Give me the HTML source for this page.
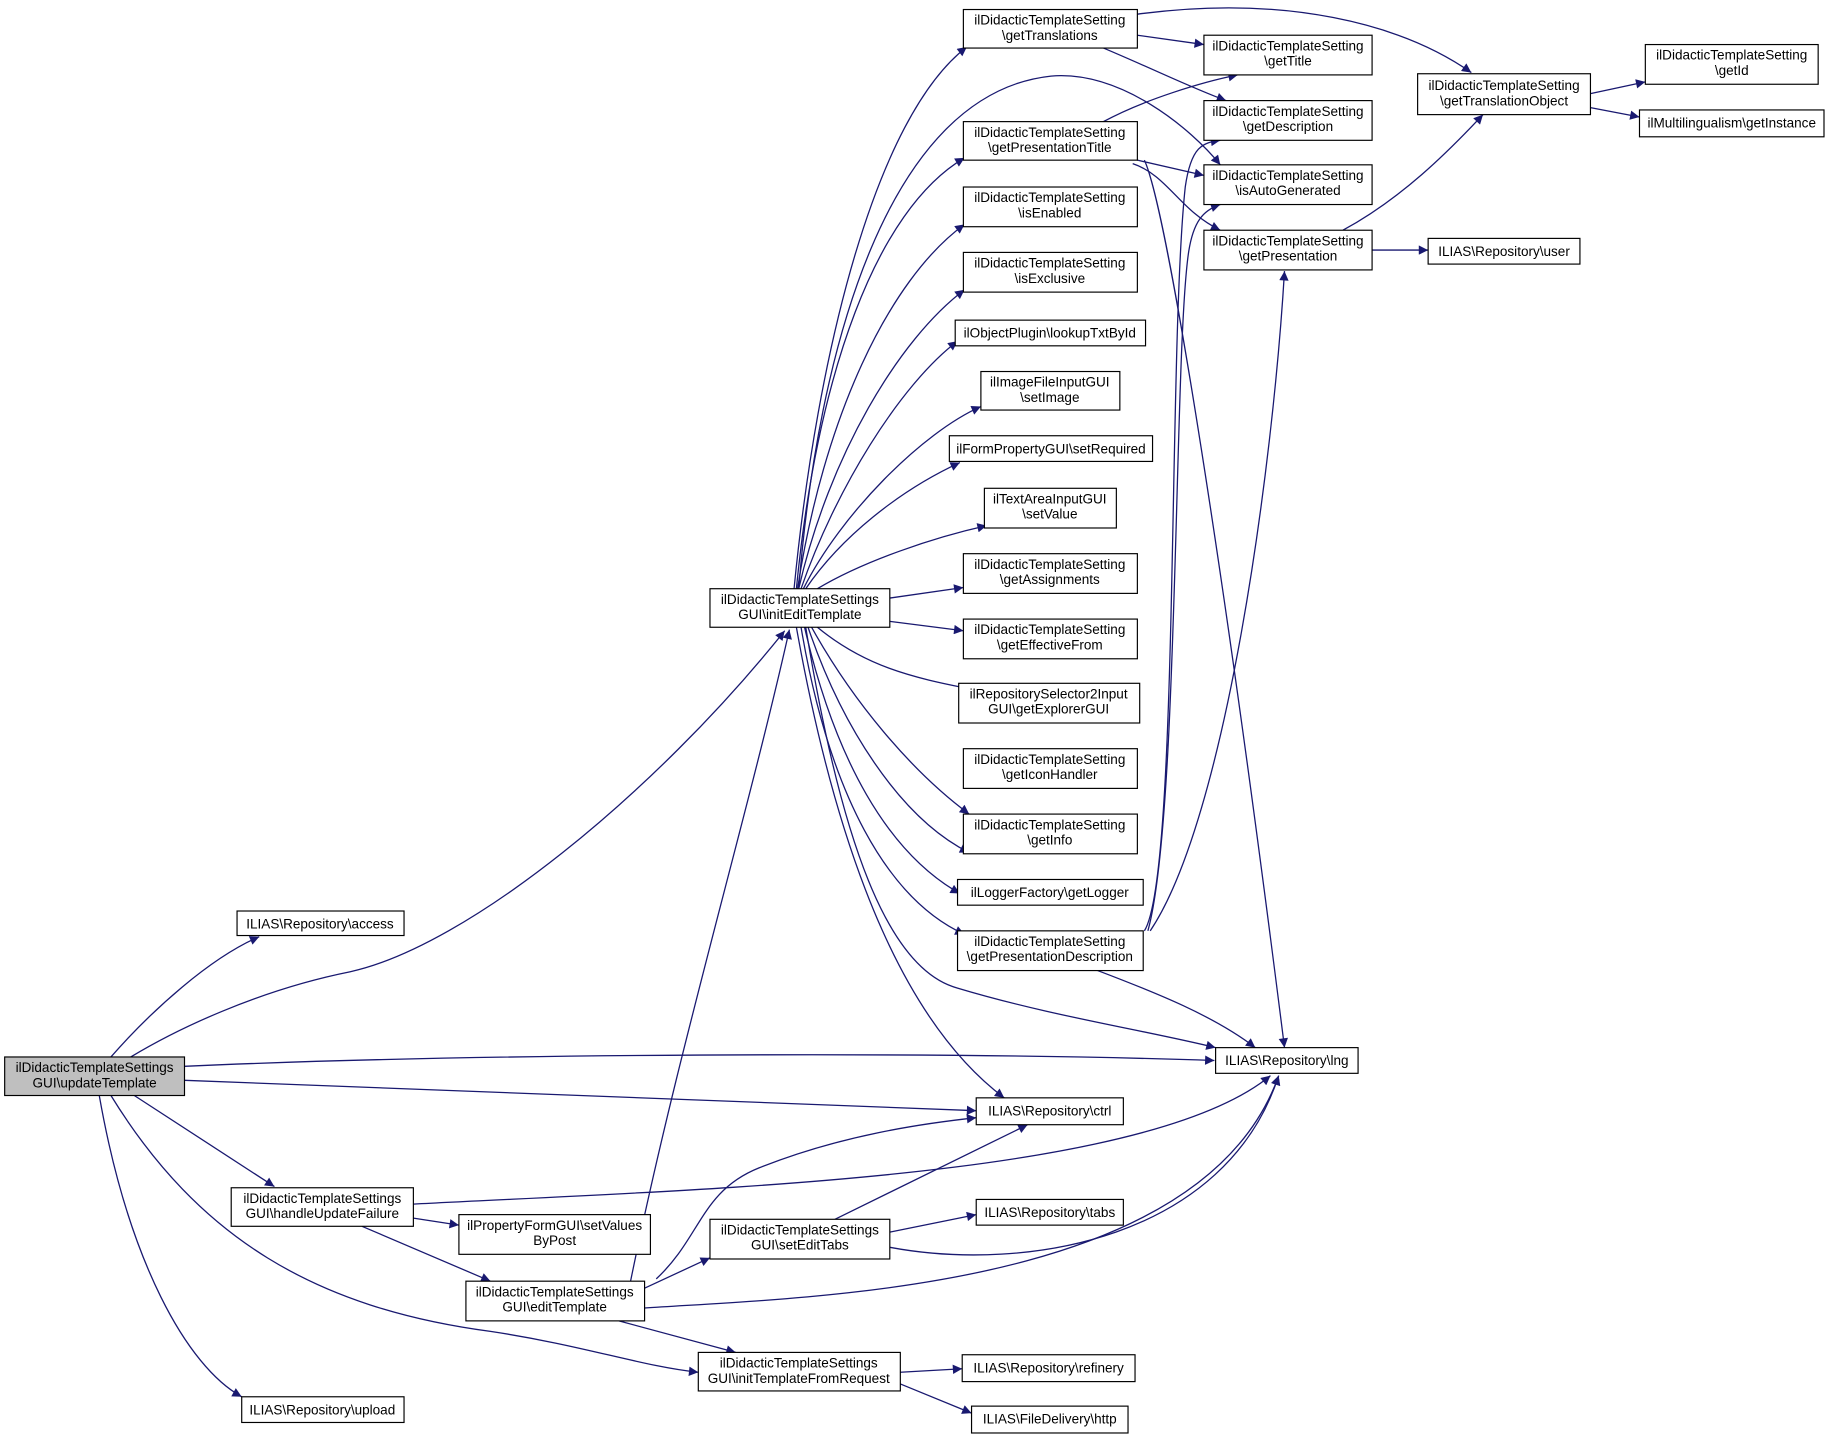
<!DOCTYPE html>
<html><head><meta charset="utf-8"><style>
html,body{margin:0;padding:0;background:#fff;}
svg{display:block;}
text{font-family:"Liberation Sans",sans-serif;font-size:11.6px;fill:#000;text-anchor:middle;}
.e{fill:none;stroke:#191970;stroke-width:1.1;marker-end:url(#a);}
.n{fill:#fff;stroke:#000;stroke-width:1;}
</style></head><body>
<svg width="1831" height="1439" viewBox="0 0 1568 1232" xmlns="http://www.w3.org/2000/svg">
<defs><marker id="a" viewBox="0 0 10 10" refX="10" refY="5" markerWidth="10" markerHeight="8" markerUnits="userSpaceOnUse" orient="auto"><path d="M0,0 L10,5 L0,10 z" fill="#191970"/></marker></defs>
<g>
<path class="e" d="M95,905 C130,865 180,820 222,802"/>
<path class="e" d="M112,905 C150,882 220,848 300,832 C400,810 560,680 672,540"/>
<path class="e" d="M158,913 C400,902 800,900 1040,908"/>
<path class="e" d="M158,925 L836,951"/>
<path class="e" d="M115,938 L235,1016"/>
<path class="e" d="M95,938 C170,1060 270,1120 420,1140 C500,1152 550,1170 598,1175"/>
<path class="e" d="M85,938 C110,1080 160,1170 207,1196"/>
<path class="e" d="M354,1031 C600,1018 980,1010 1088,921"/>
<path class="e" d="M354,1043 L393,1049"/>
<path class="e" d="M310,1050 L420,1097"/>
<path class="e" d="M540,1097 C580,900 640,700 676,539"/>
<path class="e" d="M562,1095 C600,1060 600,1020 650,1000 C720,972 790,962 836,957"/>
<path class="e" d="M552,1103 L608,1077"/>
<path class="e" d="M552,1120 C700,1110 1030,1105 1095,921"/>
<path class="e" d="M530,1131 L630,1158"/>
<path class="e" d="M715,1044 L880,963"/>
<path class="e" d="M762,1055 L836,1040"/>
<path class="e" d="M762,1068 C880,1090 1050,1060 1095,921"/>
<path class="e" d="M771,1175 L824,1172"/>
<path class="e" d="M771,1185 L832,1210"/>
<path class="e" d="M680,504 C700,300 750,100 828,40"/>
<path class="e" d="M682,504 C700,320 750,180 826,135"/>
<path class="e" d="M683,504 C705,360 760,240 826,192"/>
<path class="e" d="M684,504 C710,390 770,290 826,248"/>
<path class="e" d="M686,504 C715,420 770,330 820,292"/>
<path class="e" d="M688,504 C720,440 790,370 840,348"/>
<path class="e" d="M690,504 C720,460 770,420 822,396"/>
<path class="e" d="M700,504 C740,480 800,460 845,450"/>
<path class="e" d="M762,512 L825,503"/>
<path class="e" d="M762,532 L825,540"/>
<path class="e" d="M700,537 C740,570 780,580 832,590"/>
<path class="e" d="M695,537 C730,600 780,660 830,697"/>
<path class="e" d="M692,537 C720,620 770,700 830,730"/>
<path class="e" d="M689,537 C715,650 760,730 822,765"/>
<path class="e" d="M686,537 C710,680 760,770 826,800"/>
<path class="e" d="M682,537 C720,750 780,880 860,940"/>
<path class="e" d="M690,537 C720,720 760,830 820,846 C900,870 980,882 1041,897"/>
<path class="e" d="M684,504 C700,300 760,80 900,65 C960,60 1020,110 1045,141"/>
<path class="e" d="M974,30 L1031,38"/>
<path class="e" d="M945,41 C990,60 1020,75 1050,86"/>
<path class="e" d="M974,12 C1100,-5 1200,20 1260,62"/>
<path class="e" d="M945,104 C980,85 1030,70 1060,64"/>
<path class="e" d="M974,137 L1031,150"/>
<path class="e" d="M970,140 C1000,150 1010,180 1045,197"/>
<path class="e" d="M980,137 C1000,180 1050,500 1100,897"/>
<path class="e" d="M980,797 C1010,750 1000,300 1015,160 C1020,125 1030,122 1045,120"/>
<path class="e" d="M983,797 C1010,700 1005,300 1018,215 C1022,190 1030,180 1045,175"/>
<path class="e" d="M985,797 C1050,700 1090,400 1100,232"/>
<path class="e" d="M940,831 C990,850 1040,870 1075,897"/>
<path class="e" d="M1150,197 C1200,170 1240,130 1270,98"/>
<path class="e" d="M1175,214 L1223,214"/>
<path class="e" d="M1362,80 L1409,70"/>
<path class="e" d="M1362,92 L1404,100"/>
</g>
<g>
<rect x="4" y="905" width="154" height="33" fill="#bfbfbf" stroke="#000"/>
<text x="81" y="918">ilDidacticTemplateSettings</text><text x="81" y="931">GUI\updateTemplate</text>
<rect class="n" x="203" y="780" width="143" height="21"/><text x="274" y="795">ILIAS\Repository\access</text>
<rect class="n" x="198" y="1017" width="156" height="33"/><text x="276" y="1030">ilDidacticTemplateSettings</text><text x="276" y="1043">GUI\handleUpdateFailure</text>
<rect class="n" x="393" y="1040" width="164" height="34"/><text x="475" y="1053">ilPropertyFormGUI\setValues</text><text x="475" y="1066">ByPost</text>
<rect class="n" x="399" y="1097" width="153" height="34"/><text x="475" y="1110">ilDidacticTemplateSettings</text><text x="475" y="1123">GUI\editTemplate</text>
<rect class="n" x="207" y="1196" width="139" height="22"/><text x="276" y="1211">ILIAS\Repository\upload</text>
<rect class="n" x="608" y="504" width="154" height="33"/><text x="685" y="517">ilDidacticTemplateSettings</text><text x="685" y="530">GUI\initEditTemplate</text>
<rect class="n" x="608" y="1044" width="154" height="34"/><text x="685" y="1057">ilDidacticTemplateSettings</text><text x="685" y="1070">GUI\setEditTabs</text>
<rect class="n" x="598" y="1158" width="173" height="33"/><text x="684" y="1171">ilDidacticTemplateSettings</text><text x="684" y="1184">GUI\initTemplateFromRequest</text>
<rect class="n" x="1041" y="897" width="122" height="22"/><text x="1102" y="912">ILIAS\Repository\lng</text>
<rect class="n" x="836" y="940" width="126" height="23"/><text x="899" y="955">ILIAS\Repository\ctrl</text>
<rect class="n" x="836" y="1027" width="126" height="22"/><text x="899" y="1042">ILIAS\Repository\tabs</text>
<rect class="n" x="824" y="1160" width="148" height="23"/><text x="898" y="1175">ILIAS\Repository\refinery</text>
<rect class="n" x="832" y="1204" width="134" height="23"/><text x="899" y="1219">ILIAS\FileDelivery\http</text>
<rect class="n" x="825" y="8" width="149" height="33"/><text x="899" y="21">ilDidacticTemplateSetting</text><text x="899" y="34">\getTranslations</text>
<rect class="n" x="825" y="104" width="149" height="33"/><text x="899" y="117">ilDidacticTemplateSetting</text><text x="899" y="130">\getPresentationTitle</text>
<rect class="n" x="825" y="160" width="149" height="34"/><text x="899" y="173">ilDidacticTemplateSetting</text><text x="899" y="186">\isEnabled</text>
<rect class="n" x="825" y="216" width="149" height="34"/><text x="899" y="229">ilDidacticTemplateSetting</text><text x="899" y="242">\isExclusive</text>
<rect class="n" x="818" y="274" width="163" height="22"/><text x="899" y="289">ilObjectPlugin\lookupTxtById</text>
<rect class="n" x="840" y="318" width="119" height="33"/><text x="899" y="331">ilImageFileInputGUI</text><text x="899" y="344">\setImage</text>
<rect class="n" x="813" y="373" width="174" height="22"/><text x="900" y="388">ilFormPropertyGUI\setRequired</text>
<rect class="n" x="843" y="418" width="113" height="34"/><text x="899" y="431">ilTextAreaInputGUI</text><text x="899" y="444">\setValue</text>
<rect class="n" x="825" y="474" width="149" height="34"/><text x="899" y="487">ilDidacticTemplateSetting</text><text x="899" y="500">\getAssignments</text>
<rect class="n" x="825" y="530" width="149" height="34"/><text x="899" y="543">ilDidacticTemplateSetting</text><text x="899" y="556">\getEffectiveFrom</text>
<rect class="n" x="821" y="585" width="155" height="34"/><text x="898" y="598">ilRepositorySelector2Input</text><text x="898" y="611">GUI\getExplorerGUI</text>
<rect class="n" x="825" y="641" width="149" height="34"/><text x="899" y="654">ilDidacticTemplateSetting</text><text x="899" y="667">\getIconHandler</text>
<rect class="n" x="825" y="697" width="149" height="34"/><text x="899" y="710">ilDidacticTemplateSetting</text><text x="899" y="723">\getInfo</text>
<rect class="n" x="820" y="753" width="159" height="22"/><text x="899" y="768">ilLoggerFactory\getLogger</text>
<rect class="n" x="820" y="797" width="159" height="34"/><text x="899" y="810">ilDidacticTemplateSetting</text><text x="899" y="823">\getPresentationDescription</text>
<rect class="n" x="1031" y="30" width="144" height="34"/><text x="1103" y="43">ilDidacticTemplateSetting</text><text x="1103" y="56">\getTitle</text>
<rect class="n" x="1031" y="86" width="144" height="34"/><text x="1103" y="99">ilDidacticTemplateSetting</text><text x="1103" y="112">\getDescription</text>
<rect class="n" x="1031" y="141" width="144" height="34"/><text x="1103" y="154">ilDidacticTemplateSetting</text><text x="1103" y="167">\isAutoGenerated</text>
<rect class="n" x="1031" y="197" width="144" height="34"/><text x="1103" y="210">ilDidacticTemplateSetting</text><text x="1103" y="223">\getPresentation</text>
<rect class="n" x="1214" y="63" width="148" height="35"/><text x="1288" y="77">ilDidacticTemplateSetting</text><text x="1288" y="90">\getTranslationObject</text>
<rect class="n" x="1223" y="204" width="130" height="22"/><text x="1288" y="219">ILIAS\Repository\user</text>
<rect class="n" x="1409" y="38" width="148" height="34"/><text x="1483" y="51">ilDidacticTemplateSetting</text><text x="1483" y="64">\getId</text>
<rect class="n" x="1404" y="94" width="158" height="23"/><text x="1483" y="109">ilMultilingualism\getInstance</text>
</g>
</svg>
</body></html>
